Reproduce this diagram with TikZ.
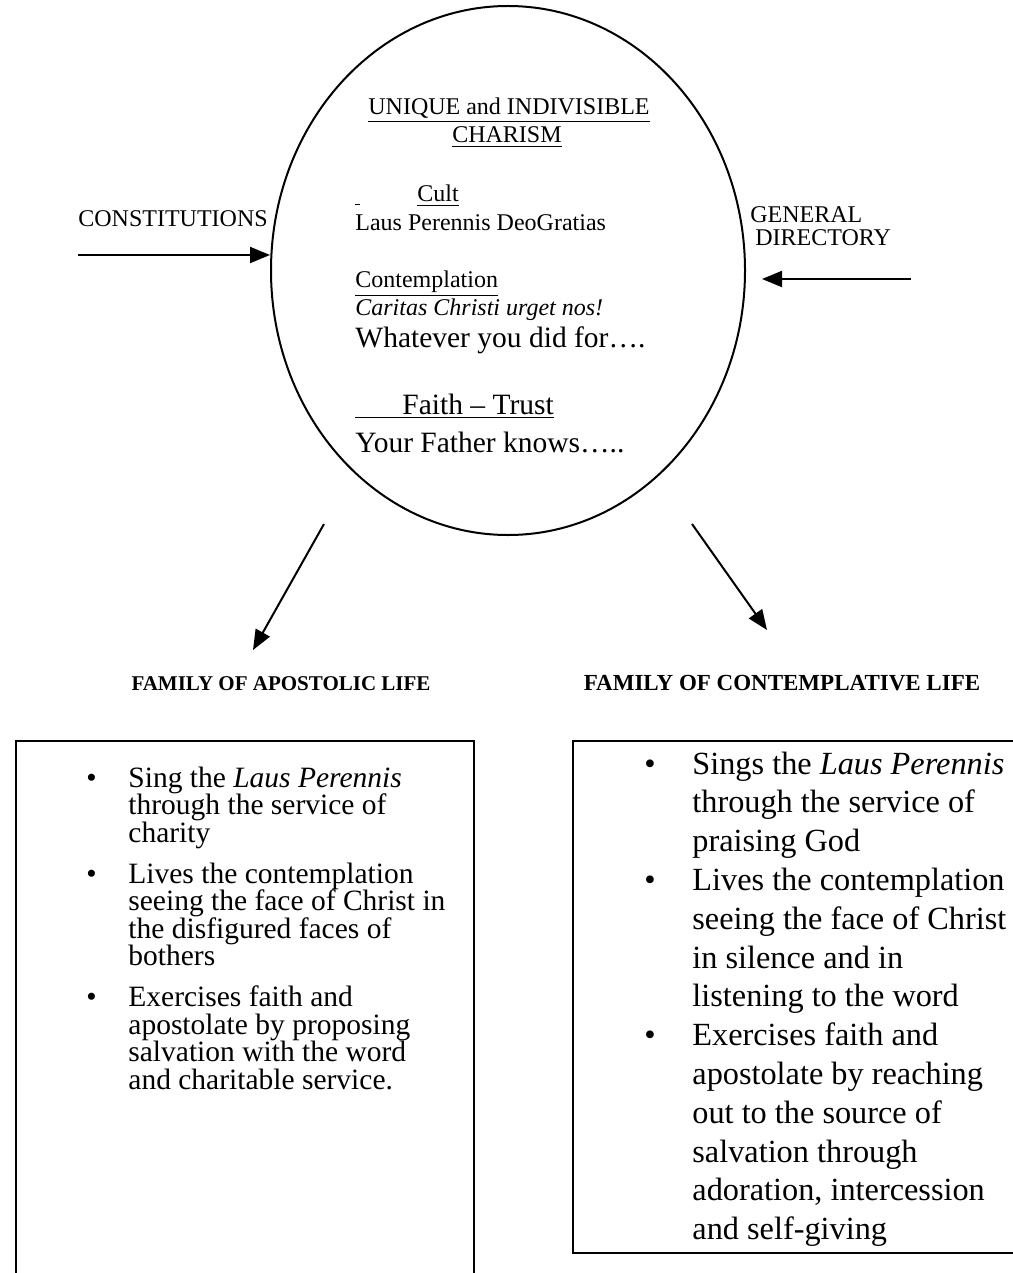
\documentclass[tikz,border=0pt]{standalone}
\usepackage{fontspec}
\setmainfont{Liberation Serif}
\usetikzlibrary{arrows.meta,shapes.geometric,positioning}

% lines of one node, first baseline is the node's base
\newcommand{\itemlines}[1]{\vtop{\halign{##\hfil\cr#1\crcr}}}

\tikzset{
  charism/.style={draw, ellipse, line width=1pt, minimum width=237pt, minimum height=264.5pt, inner sep=0pt},
  intext/.style={anchor=base west, inner sep=0pt, font=\fontsize{12}{14}\selectfont},
  inbig/.style={anchor=base west, inner sep=0pt, font=\fontsize{14.75}{17}\selectfont},
  side/.style={anchor=base west, inner sep=0pt, font=\fontsize{12}{12}\selectfont},
  famhead/.style={anchor=base, inner sep=0pt, font=\bfseries\fontsize{#1}{13}\selectfont},
  listbox/.style={draw, line width=1.2pt, anchor=north west, inner sep=0pt},
  apoitem/.style={anchor=base west, inner sep=0pt, font=\fontsize{14.75}{13.75}\selectfont},
  conitem/.style={anchor=base west, inner sep=0pt, font=\fontsize{16.15}{19.4}\selectfont},
  arr/.style={line width=1pt, -{Triangle[length=10pt,width=8pt]}}
}

\begin{document}
\begin{tikzpicture}[x=0.5pt,y=-0.5pt]
 \useasboundingbox (0,0) rectangle (1012,1273);

 % the charism
 \node[charism] (charism) at (508,270.5) {};
 \node[intext, anchor=base] (unique) at (509,115) {\underline{UNIQUE and INDIVISIBLE}};
 \node[intext, anchor=base] (chm) at (507,143) {\underline{CHARISM}};
 \node[intext] (cult) at (355,202) {\underline{\hspace{2.5pt}}\hspace{28.5pt}\underline{Cult}};
 \node[intext] (laus) at (355,230) {Laus Perennis DeoGratias};
 \node[intext] (contemp) at (355,287) {\underline{Contemplation}};
 \node[intext] (caritas) at (355,315) {\textit{Caritas Christi urget nos!}};
 \node[inbig] (whatever) at (355,347) {Whatever you did for\ldots.};
 \node[inbig] (faith) at (355,414) {\underline{\hspace{23.5pt}Faith -- Trust}};
 \node[inbig] (father) at (355,452) {Your Father knows\ldots..};

 % sources
 \node[side] (const) at (78,227) {CONSTITUTIONS};
 \coordinate (constin) at (78,255);
 \draw[arr] (constin) -- (constin -| charism.west);
 \node[side] (gendir) at (750,222) {\itemlines{GENERAL\cr\hspace*{2.5pt}DIRECTORY}};
 \coordinate (gdstart) at (911,279);
 \coordinate (gdend) at (762,279);
 \draw[arr] (gdstart) -- (gdend);

 % the two families
 \coordinate (apostart) at (324,524);
 \coordinate (apotip) at (253,650);
 \coordinate (constart) at (692,524);
 \coordinate (contip) at (767,630);
 \draw[arr] (apostart) -- (apotip);
 \draw[arr] (constart) -- (contip);
 \node[famhead=10.5] (apohead) at (281,690) {FAMILY OF APOSTOLIC LIFE};
 \node[famhead=11.5] (conhead) at (782,690) {FAMILY OF CONTEMPLATIVE LIFE};

 \node[listbox, minimum width=229pt, minimum height=275pt] (apobox) at (15,740) {};
 \node[listbox, minimum width=223pt, minimum height=256pt] (conbox) at (572,740) {};

 \foreach \y [count=\i] in {787,883,1006.5}
  \node[apoitem] (apodot\i) at (86,\y) {\textbullet};
 \node[apoitem] (apo1) at (128,787) {\itemlines{Sing the \textit{Laus Perennis}\cr through the service of\cr charity}};
 \node[apoitem] (apo2) at (128,883) {\itemlines{Lives the contemplation\cr seeing the face of Christ in\cr the disfigured faces of\cr bothers}};
 \node[apoitem] (apo3) at (128,1006.5) {\itemlines{Exercises faith and\cr apostolate by proposing\cr salvation with the word\cr and charitable service.}};

 \foreach \y [count=\i] in {774,890.4,1045.6}
  \node[conitem] (condot\i) at (644,\y) {\textbullet};
 \node[conitem] (con1) at (692,774) {\itemlines{Sings the \textit{Laus Perennis}\cr through the service of\cr praising God}};
 \node[conitem] (con2) at (692,890.4) {\itemlines{Lives the contemplation\cr seeing the face of Christ\cr in silence and in\cr listening to the word}};
 \node[conitem] (con3) at (692,1045.6) {\itemlines{Exercises faith and\cr apostolate by reaching\cr out to the source of\cr salvation through\cr adoration, intercession\cr and self-giving}};
\end{tikzpicture}
\end{document}
